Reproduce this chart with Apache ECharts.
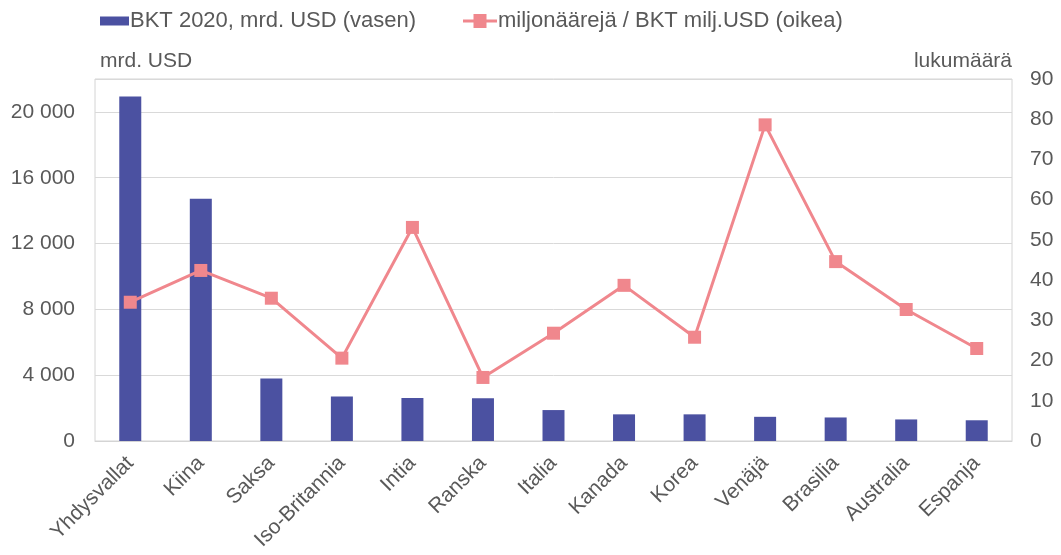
<!DOCTYPE html>
<html>
<head>
<meta charset="utf-8">
<script src="https://cdn.jsdelivr.net/npm/echarts@6/dist/echarts.min.js"></script>
<style>html,body{margin:0;padding:0;background:#fff}#c{width:1061px;height:555px}</style>
</head>
<body>
<div id="c"></div>
<script>
var categories = ['Yhdysvallat','Kiina','Saksa','Iso-Britannia','Intia','Ranska','Italia','Kanada','Korea','Venäjä','Brasilia','Australia','Espanja'];
var gdp = [20940, 14720, 3800, 2700, 2620, 2600, 1880, 1620, 1620, 1470, 1430, 1310, 1260];
var millionaires = [34.5, 42.4, 35.5, 20.6, 53.1, 15.8, 26.8, 38.7, 25.8, 78.6, 44.6, 32.7, 23.0];
var leftTicks = [0, 4000, 8000, 12000, 16000, 20000];
var rightTicks = [0, 10, 20, 30, 40, 50, 60, 70, 80, 90];

var font = 'Liberation Sans, Arial, sans-serif';
var txt = '#595959';
var lineColor = '#F0878D';
var chart = echarts.init(document.getElementById('c'));
chart.setOption({
  animation: false,
  textStyle: {fontFamily: font},
  legend: [{
    left: 95, top: 5, itemWidth: 29, itemHeight: 9,
    textStyle: {fontSize: 22, color: txt, fontFamily: font, padding: [0,0,0,-4]},
    data: [{name: 'BKT 2020, mrd. USD (vasen)', icon: 'rect'}]
  }, {
    left: 458, top: 5, itemWidth: 34, itemHeight: 14,
    textStyle: {fontSize: 22, color: txt, fontFamily: font, padding: [0,0,0,-4]},
    data: [{name: 'miljonäärejä / BKT milj.USD (oikea)',
      icon: 'path://M0,5.5 L10.5,5.5 L10.5,0 L23.5,0 L23.5,5.5 L34,5.5 L34,8.5 L23.5,8.5 L23.5,14 L10.5,14 L10.5,8.5 L0,8.5 Z',
      itemStyle: {color: lineColor}}]
  }],
  grid: {left: 95, right: 49, top: 79, bottom: 114, show: true, borderColor: '#d4d4d4', borderWidth: 1},
  xAxis: {
    type: 'category', data: categories,
    axisLine: {lineStyle: {color: '#d4d4d4'}},
    axisTick: {show: false},
    axisLabel: {rotate: 45, interval: 0, fontSize: 21, color: txt, margin: 19, fontFamily: font}
  },
  yAxis: [{
    type: 'value', min: 0, max: 22000, interval: 4000,
    name: 'mrd. USD', nameLocation: 'end', nameGap: 7,
    nameTextStyle: {fontSize: 21, color: txt, align: 'left', padding: [0,0,0,5], fontFamily: font},
    axisLine: {show: false}, axisTick: {show: false},
    splitLine: {lineStyle: {color: '#d9d9d9'}},
    axisLabel: {fontSize: 21, color: txt, margin: 20, fontFamily: font,
      formatter: function (v) { if (leftTicks.indexOf(v) < 0) return ''; return String(v).replace(/\B(?=(\d{3})+(?!\d))/g, ' '); }}
  }, {
    type: 'value', min: 0, max: 90, interval: 10,
    name: 'lukumäärä', nameLocation: 'end', nameGap: 7,
    nameTextStyle: {fontSize: 21, color: txt, align: 'right', padding: [0,0,0,0], fontFamily: font},
    axisLine: {show: false}, axisTick: {show: false}, splitLine: {show: false},
    axisLabel: {fontSize: 21, color: txt, margin: 18, fontFamily: font,
      formatter: function (v) { return rightTicks.indexOf(v) < 0 ? '' : String(v); }}
  }],
  series: [{
    name: 'BKT 2020, mrd. USD (vasen)', type: 'bar', data: gdp, barWidth: 22,
    itemStyle: {color: '#4B51A1'}
  }, {
    name: 'miljonäärejä / BKT milj.USD (oikea)', type: 'line', yAxisIndex: 1, data: millionaires,
    symbol: 'rect', symbolSize: 13, z: 5,
    lineStyle: {color: lineColor, width: 3},
    itemStyle: {color: lineColor}
  }]
});
</script>
</body>
</html>
